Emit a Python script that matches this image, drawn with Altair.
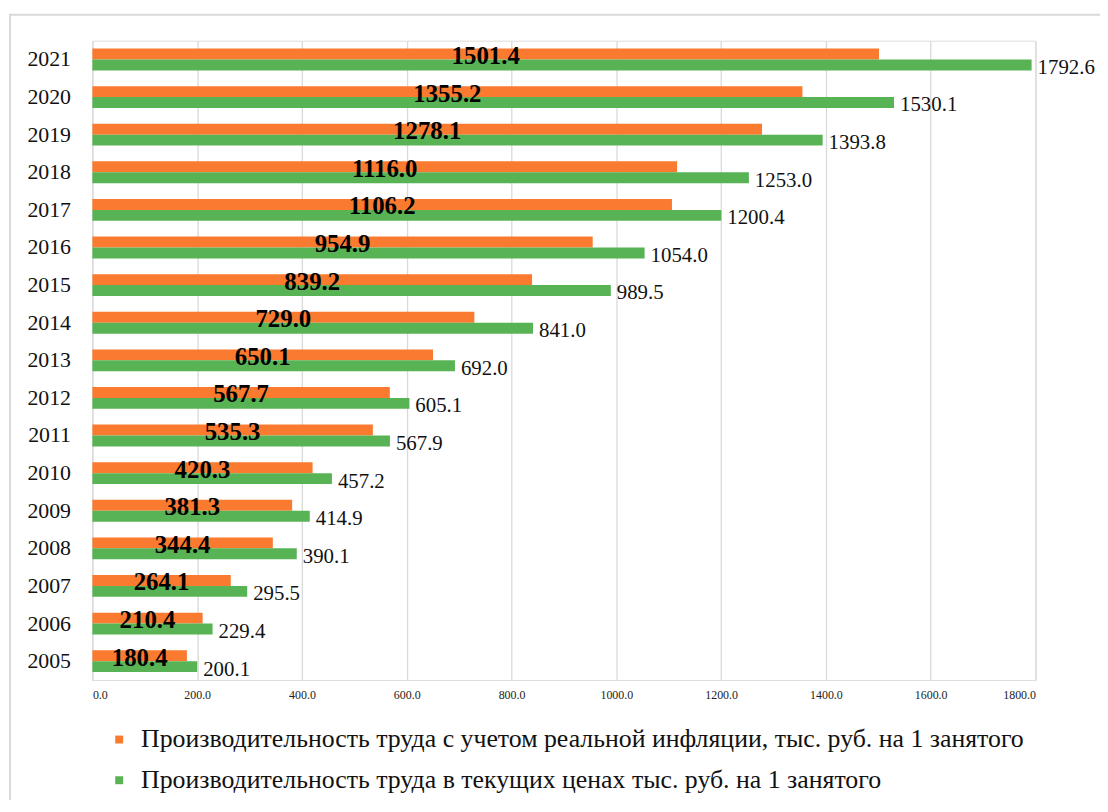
import altair as alt
import pandas as pd

years = ["2005", "2006", "2007", "2008", "2009", "2010", "2011", "2012", "2013",
         "2014", "2015", "2016", "2017", "2018", "2019", "2020", "2021"]
real_values = [180.4, 210.4, 264.1, 344.4, 381.3, 420.3, 535.3, 567.7, 650.1,
               729.0, 839.2, 954.9, 1106.2, 1116.0, 1278.1, 1355.2, 1501.4]
current_values = [200.1, 229.4, 295.5, 390.1, 414.9, 457.2, 567.9, 605.1, 692.0,
                  841.0, 989.5, 1054.0, 1200.4, 1253.0, 1393.8, 1530.1, 1792.6]
series_names = [
    "Производительность труда с учетом реальной инфляции, тыс. руб. на 1 занятого",
    "Производительность труда в текущих ценах тыс. руб.  на 1 занятого",
]
series_colors = ["#FA7A30", "#58B355"]
x_ticks = [0, 200, 400, 600, 800, 1000, 1200, 1400, 1600, 1800]

rows = []
for y, v in zip(years, real_values):
    rows.append({"year": y, "series": series_names[0], "value": v})
for y, v in zip(years, current_values):
    rows.append({"year": y, "series": series_names[1], "value": v})
df = pd.DataFrame(rows)

year_order = list(reversed(years))
FONT = "Liberation Serif"

y_enc = alt.Y("year:N", sort=year_order, title=None,
              scale=alt.Scale(paddingInner=0.42, paddingOuter=0.21),
              axis=alt.Axis(labelFont=FONT, labelFontSize=22, labelColor="#111",
                            ticks=False, domain=False, labelPadding=22))
x_enc = alt.X("value:Q", title=None,
              scale=alt.Scale(domain=[0, 1800], nice=False),
              axis=alt.Axis(values=x_ticks, format=".1f", labelFont=FONT,
                            labelFontSize=12, labelColor="#222", ticks=False,
                            domain=False, grid=True, gridColor="#D9D9D9",
                            gridWidth=1.3, labelPadding=10))

bars = alt.Chart(df).mark_bar(size=11).encode(
    y=y_enc,
    x=x_enc,
    yOffset=alt.YOffset("series:N", sort=series_names,
                        scale=alt.Scale(paddingInner=0, paddingOuter=0)),
    color=alt.Color("series:N", sort=series_names,
                    scale=alt.Scale(domain=series_names, range=series_colors),
                    legend=alt.Legend(orient="none", legendX=14, legendY=691,
                                      direction="vertical", title=None,
                                      symbolType="square", symbolSize=64,
                                      symbolStrokeWidth=0,
                                      labelFont=FONT, labelFontSize=26,
                                      labelColor="#111", labelLimit=1200,
                                      rowPadding=15, labelOffset=9)),
)

real_df = df[df["series"] == series_names[0]].copy()
real_df["half"] = real_df["value"] / 2
cur_df = df[df["series"] == series_names[1]]

real_labels = alt.Chart(real_df).mark_text(
    font=FONT, fontSize=25, fontWeight="bold", color="#000", dy=2
).encode(
    y=alt.Y("year:N", sort=year_order),
    yOffset=alt.YOffset("series:N", sort=series_names),
    x=alt.X("half:Q"),
    text=alt.Text("value:Q", format=".1f"),
)

cur_labels = alt.Chart(cur_df).mark_text(
    font=FONT, fontSize=21, color="#111", align="left", dx=6, dy=3
).encode(
    y=alt.Y("year:N", sort=year_order),
    yOffset=alt.YOffset("series:N", sort=series_names),
    x=alt.X("value:Q"),
    text=alt.Text("value:Q", format=".1f"),
)

border = alt.Chart(pd.DataFrame({"a": [0]})).mark_rect(
    fill=None, stroke="#D9D9D9", strokeWidth=2
).encode(x=alt.value(-83), x2=alt.value(1100), y=alt.value(-26), y2=alt.value(820))

chart = alt.layer(border, bars, real_labels, cur_labels).resolve_scale(
    yOffset="shared"
).properties(
    width=950, height=644,
    autosize=alt.AutoSizeParams(type="none"),
    padding={"left": 85, "top": 30, "right": 65, "bottom": 118},
).configure_view(stroke=None).configure(background="white")

chart.save("out.html", embed_options={"renderer": "svg", "actions": False})
